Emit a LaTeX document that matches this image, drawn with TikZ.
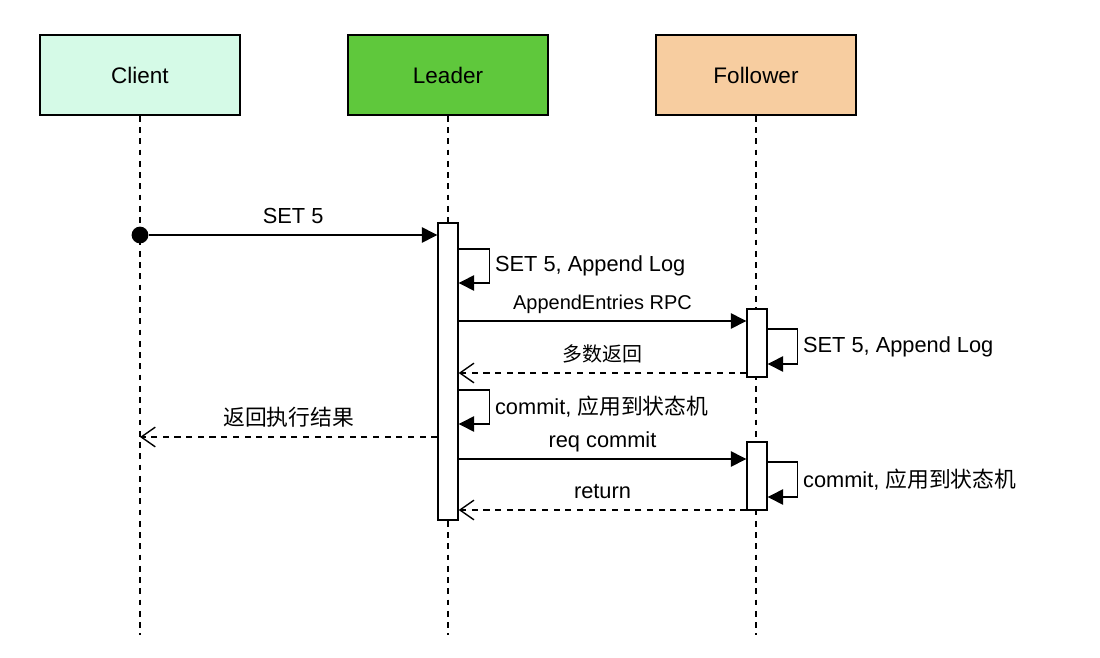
\documentclass[tikz,border=0pt]{standalone}
\usepackage{fontspec}
\setmainfont{Liberation Sans}
\newfontfamily\cjk{Noto Sans CJK SC}
\usetikzlibrary{positioning, arrows.meta, calc}
\definecolor{clientfill}{HTML}{D5FAE7}
\definecolor{leaderfill}{HTML}{5FC83C}
\definecolor{followerfill}{HTML}{F7CDA0}

\begin{document}
\begin{tikzpicture}[
        x=0.025cm, y=-0.025cm,
        line width=1pt,
        actor/.style={rectangle, draw, line width=1.3pt, minimum width=5cm, minimum height=2cm, font=\fontsize{16}{19}\selectfont},
        lifeline/.style={dash pattern=on 4pt off 4pt},
        actbar/.style={rectangle, draw, fill=white, minimum width=0.5cm, inner sep=0pt},
        dot/.style={circle, fill, inner sep=0pt, minimum size=0.42cm},
        msg/.style={-{Triangle[length=11pt, width=11pt]}},
        reply/.style={dash pattern=on 4.3pt off 4pt, -{Straight Barb[length=10pt, width=14pt]}},
        msglabel/.style={midway, anchor=base, yshift=8.5pt, font=\fontsize{15.5}{18}\selectfont},
        looplabel/.style={midway, right=0pt, font=\fontsize{15.5}{18}\selectfont}
    ]
    \useasboundingbox (0,0) rectangle (1100,658);

    \node[actor, fill=clientfill] (client) at (140,75) {Client};
    \node[actor, fill=leaderfill] (leader) at (448,75) {Leader};
    \node[actor, fill=followerfill] (follower) at (756,75) {Follower};

    \foreach \who in {client, leader, follower} {
        \draw[lifeline] (\who.south) -- (\who.south |- 0,635);
    }

    % activation bars
    \node[actbar, minimum height=7.425cm] (lbar) at (448,371.5) {};
    \node[actbar, minimum height=1.7cm] (fbar1) at (757,343) {};
    \node[actbar, minimum height=1.7cm] (fbar2) at (757,476) {};

    \node[dot] (start) at (client.south |- 0,235) {};
    \draw[msg] (start) -- (start -| lbar.west) node[msglabel] {SET 5};

    \draw[msg] (lbar.east |- 0,249) -- ++(31,0) -- ++(0,34) node[looplabel] {SET 5, Append Log} -- ++(-31,0);

    \draw[msg] (lbar.east |- 0,321) -- (fbar1.west |- 0,321) node[msglabel, font=\fontsize{14.2}{17}\selectfont] {AppendEntries RPC};

    \draw[msg] (fbar1.east |- 0,329) -- ++(30,0) -- ++(0,35) node[looplabel] {SET 5, Append Log} -- ++(-30,0);

    \draw[reply] (fbar1.west |- 0,373) -- (lbar.east |- 0,373) node[msglabel, font=\fontsize{14.2}{17}\selectfont] {\cjk 多数返回};

    \draw[msg] (lbar.east |- 0,390) -- ++(31,0) -- ++(0,34) node[looplabel] {commit, {\cjk 应用到状态机}} -- ++(-31,0);

    \draw[reply] (lbar.west |- 0,437) -- (client.south |- 0,437) node[msglabel] {\cjk 返回执行结果};

    \draw[msg] (lbar.east |- 0,459) -- (fbar2.west |- 0,459) node[msglabel] {req commit};

    \draw[msg] (fbar2.east |- 0,462) -- ++(30,0) -- ++(0,35) node[looplabel] {commit, {\cjk 应用到状态机}} -- ++(-30,0);

    \draw[reply] (fbar2.west |- 0,510) -- (lbar.east |- 0,510) node[msglabel] {return};
\end{tikzpicture}
\end{document}
